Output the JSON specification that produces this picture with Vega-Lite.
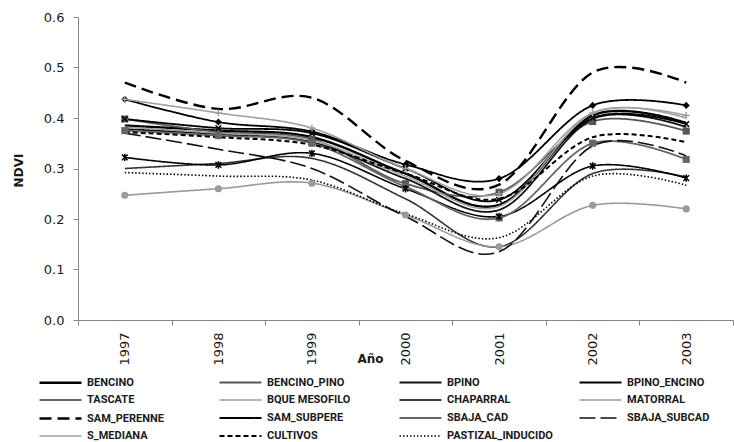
{
"$schema": "https://vega.github.io/schema/vega-lite/v6.json",
"width": 655, "height": 303,
"autosize": {"type": "none"},
"padding": {"left": 78, "top": 17, "right": 1, "bottom": 122},
"background": "white",
"config": {
 "view": {"stroke": null},
 "axis": {"grid": false, "domainColor": "#858585", "tickColor": "#858585", "labelFont": "DejaVu Sans", "labelFontSize": 13, "labelColor": "#1a1a1a", "titleFont": "DejaVu Sans", "titleFontSize": 12, "titleFontWeight": "bold", "titleColor": "#1a1a1a"}
},
"datasets": {"ndvi": [
{"year":"1997","series":"BENCINO","ndvi":0.385},{"year":"1998","series":"BENCINO","ndvi":0.375},{"year":"1999","series":"BENCINO","ndvi":0.362},{"year":"2000","series":"BENCINO","ndvi":0.29},{"year":"2001","series":"BENCINO","ndvi":0.228},{"year":"2002","series":"BENCINO","ndvi":0.405},{"year":"2003","series":"BENCINO","ndvi":0.39},
{"year":"1997","series":"BENCINO_PINO","ndvi":0.398},{"year":"1998","series":"BENCINO_PINO","ndvi":0.372},{"year":"1999","series":"BENCINO_PINO","ndvi":0.358},{"year":"2000","series":"BENCINO_PINO","ndvi":0.27},{"year":"2001","series":"BENCINO_PINO","ndvi":0.253},{"year":"2002","series":"BENCINO_PINO","ndvi":0.393},{"year":"2003","series":"BENCINO_PINO","ndvi":0.374},
{"year":"1997","series":"BPINO","ndvi":0.378},{"year":"1998","series":"BPINO","ndvi":0.368},{"year":"1999","series":"BPINO","ndvi":0.352},{"year":"2000","series":"BPINO","ndvi":0.28},{"year":"2001","series":"BPINO","ndvi":0.218},{"year":"2002","series":"BPINO","ndvi":0.398},{"year":"2003","series":"BPINO","ndvi":0.382},
{"year":"1997","series":"BPINO_ENCINO","ndvi":0.398},{"year":"1998","series":"BPINO_ENCINO","ndvi":0.38},{"year":"1999","series":"BPINO_ENCINO","ndvi":0.37},{"year":"2000","series":"BPINO_ENCINO","ndvi":0.3},{"year":"2001","series":"BPINO_ENCINO","ndvi":0.238},{"year":"2002","series":"BPINO_ENCINO","ndvi":0.4},{"year":"2003","series":"BPINO_ENCINO","ndvi":0.388},
{"year":"1997","series":"TASCATE","ndvi":0.3},{"year":"1998","series":"TASCATE","ndvi":0.31},{"year":"1999","series":"TASCATE","ndvi":0.32},{"year":"2000","series":"TASCATE","ndvi":0.24},{"year":"2001","series":"TASCATE","ndvi":0.145},{"year":"2002","series":"TASCATE","ndvi":0.29},{"year":"2003","series":"TASCATE","ndvi":0.283},
{"year":"1997","series":"BQUE MESOFILO","ndvi":0.382},{"year":"1998","series":"BQUE MESOFILO","ndvi":0.37},{"year":"1999","series":"BQUE MESOFILO","ndvi":0.356},{"year":"2000","series":"BQUE MESOFILO","ndvi":0.285},{"year":"2001","series":"BQUE MESOFILO","ndvi":0.225},{"year":"2002","series":"BQUE MESOFILO","ndvi":0.41},{"year":"2003","series":"BQUE MESOFILO","ndvi":0.4},
{"year":"1997","series":"CHAPARRAL","ndvi":0.322},{"year":"1998","series":"CHAPARRAL","ndvi":0.307},{"year":"1999","series":"CHAPARRAL","ndvi":0.33},{"year":"2000","series":"CHAPARRAL","ndvi":0.26},{"year":"2001","series":"CHAPARRAL","ndvi":0.205},{"year":"2002","series":"CHAPARRAL","ndvi":0.305},{"year":"2003","series":"CHAPARRAL","ndvi":0.281},
{"year":"1997","series":"MATORRAL","ndvi":0.247},{"year":"1998","series":"MATORRAL","ndvi":0.26},{"year":"1999","series":"MATORRAL","ndvi":0.271},{"year":"2000","series":"MATORRAL","ndvi":0.208},{"year":"2001","series":"MATORRAL","ndvi":0.145},{"year":"2002","series":"MATORRAL","ndvi":0.227},{"year":"2003","series":"MATORRAL","ndvi":0.22},
{"year":"1997","series":"SAM_PERENNE","ndvi":0.47},{"year":"1998","series":"SAM_PERENNE","ndvi":0.418},{"year":"1999","series":"SAM_PERENNE","ndvi":0.44},{"year":"2000","series":"SAM_PERENNE","ndvi":0.315},{"year":"2001","series":"SAM_PERENNE","ndvi":0.268},{"year":"2002","series":"SAM_PERENNE","ndvi":0.49},{"year":"2003","series":"SAM_PERENNE","ndvi":0.47},
{"year":"1997","series":"SAM_SUBPERE","ndvi":0.437},{"year":"1998","series":"SAM_SUBPERE","ndvi":0.392},{"year":"1999","series":"SAM_SUBPERE","ndvi":0.373},{"year":"2000","series":"SAM_SUBPERE","ndvi":0.308},{"year":"2001","series":"SAM_SUBPERE","ndvi":0.28},{"year":"2002","series":"SAM_SUBPERE","ndvi":0.425},{"year":"2003","series":"SAM_SUBPERE","ndvi":0.425},
{"year":"1997","series":"SBAJA_CAD","ndvi":0.375},{"year":"1998","series":"SBAJA_CAD","ndvi":0.365},{"year":"1999","series":"SBAJA_CAD","ndvi":0.35},{"year":"2000","series":"SBAJA_CAD","ndvi":0.264},{"year":"2001","series":"SBAJA_CAD","ndvi":0.202},{"year":"2002","series":"SBAJA_CAD","ndvi":0.35},{"year":"2003","series":"SBAJA_CAD","ndvi":0.318},
{"year":"1997","series":"SBAJA_SUBCAD","ndvi":0.37},{"year":"1998","series":"SBAJA_SUBCAD","ndvi":0.338},{"year":"1999","series":"SBAJA_SUBCAD","ndvi":0.3},{"year":"2000","series":"SBAJA_SUBCAD","ndvi":0.205},{"year":"2001","series":"SBAJA_SUBCAD","ndvi":0.135},{"year":"2002","series":"SBAJA_SUBCAD","ndvi":0.345},{"year":"2003","series":"SBAJA_SUBCAD","ndvi":0.325},
{"year":"1997","series":"S_MEDIANA","ndvi":0.437},{"year":"1998","series":"S_MEDIANA","ndvi":0.41},{"year":"1999","series":"S_MEDIANA","ndvi":0.38},{"year":"2000","series":"S_MEDIANA","ndvi":0.3},{"year":"2001","series":"S_MEDIANA","ndvi":0.25},{"year":"2002","series":"S_MEDIANA","ndvi":0.41},{"year":"2003","series":"S_MEDIANA","ndvi":0.405},
{"year":"1997","series":"CULTIVOS","ndvi":0.372},{"year":"1998","series":"CULTIVOS","ndvi":0.362},{"year":"1999","series":"CULTIVOS","ndvi":0.347},{"year":"2000","series":"CULTIVOS","ndvi":0.29},{"year":"2001","series":"CULTIVOS","ndvi":0.24},{"year":"2002","series":"CULTIVOS","ndvi":0.362},{"year":"2003","series":"CULTIVOS","ndvi":0.352},
{"year":"1997","series":"PASTIZAL_INDUCIDO","ndvi":0.292},{"year":"1998","series":"PASTIZAL_INDUCIDO","ndvi":0.285},{"year":"1999","series":"PASTIZAL_INDUCIDO","ndvi":0.277},{"year":"2000","series":"PASTIZAL_INDUCIDO","ndvi":0.21},{"year":"2001","series":"PASTIZAL_INDUCIDO","ndvi":0.163},{"year":"2002","series":"PASTIZAL_INDUCIDO","ndvi":0.285},{"year":"2003","series":"PASTIZAL_INDUCIDO","ndvi":0.267}
]},
"data": {"name": "ndvi"},
"encoding": {
 "x": {"field": "year", "type": "ordinal", "scale": {"type": "band", "paddingInner": 0, "paddingOuter": 0},
  "axis": {"title": "Año", "labelAngle": -90, "tickBand": "extent", "tickSize": 5, "labelPadding": 7, "titleX": 292, "titleY": 42, "titleBaseline": "alphabetic"}},
 "y": {"field": "ndvi", "type": "quantitative", "scale": {"domain": [0, 0.6]},
  "axis": {"title": "NDVI", "values": [0, 0.1, 0.2, 0.3, 0.4, 0.5, 0.6], "format": ".1f", "tickSize": 5, "labelPadding": 9, "titleX": -60, "titleY": 153, "titleAngle": -90, "titleAlign": "center", "titleBaseline": "middle"}},
 "color": {"field": "series", "type": "nominal",
  "scale": {"domain": ["BENCINO","TASCATE","SAM_PERENNE","S_MEDIANA","BENCINO_PINO","BQUE MESOFILO","SAM_SUBPERE","CULTIVOS","BPINO","CHAPARRAL","SBAJA_CAD","PASTIZAL_INDUCIDO","BPINO_ENCINO","MATORRAL","SBAJA_SUBCAD"],
   "range": ["#000000","#333333","#000000","#a0a0a0","#555555","#a0a0a0","#000000","#000000","#111111","#000000","#666666","#000000","#000000","#9a9a9a","#111111"]},
  "legend": {"orient": "none", "legendX": -25, "legendY": 358, "columns": 4, "title": null, "symbolType": "M-3.5,0H3.5", "symbolSize": 144, "labelFont": "Roboto", "labelFontWeight": "bold", "labelFontSize": 11, "labelColor": "#1a1a1a", "labelOffset": 19, "columnPadding": 22, "rowPadding": 5, "gridAlign": "all"}}
},
"layer": [
 {"mark": {"type": "line", "interpolate": "cardinal"},
  "encoding": {
   "strokeDash": {"field": "series", "type": "nominal",
    "scale": {"domain": ["BENCINO","TASCATE","SAM_PERENNE","S_MEDIANA","BENCINO_PINO","BQUE MESOFILO","SAM_SUBPERE","CULTIVOS","BPINO","CHAPARRAL","SBAJA_CAD","PASTIZAL_INDUCIDO","BPINO_ENCINO","MATORRAL","SBAJA_SUBCAD"],
     "range": [[1,0],[1,0],[12,6],[1,0],[1,0],[1,0],[1,0],[5,3],[1,0],[1,0],[1,0],[1.5,2],[1,0],[1,0],[16,5]]}},
   "strokeWidth": {"field": "series", "type": "nominal",
    "scale": {"type": "ordinal", "domain": ["BENCINO","TASCATE","SAM_PERENNE","S_MEDIANA","BENCINO_PINO","BQUE MESOFILO","SAM_SUBPERE","CULTIVOS","BPINO","CHAPARRAL","SBAJA_CAD","PASTIZAL_INDUCIDO","BPINO_ENCINO","MATORRAL","SBAJA_SUBCAD"],
     "range": [2.4,1.6,2.4,1.6,1.8,1.6,1.8,2,1.8,1.6,1.8,1.6,1.8,1.6,1.6]}}
  }},
 {"transform": [{"filter": {"field": "series", "oneOf": ["BENCINO_PINO","MATORRAL","SAM_SUBPERE","SBAJA_CAD"]}}],
  "mark": {"type": "point", "filled": true, "opacity": 1, "size": 50},
  "encoding": {
   "shape": {"field": "series", "type": "nominal", "legend": null,
    "scale": {"domain": ["BENCINO_PINO","MATORRAL","SAM_SUBPERE","SBAJA_CAD","BPINO_ENCINO","CHAPARRAL","S_MEDIANA"],
     "range": ["square","circle","diamond","square","M-1,-1L1,1M-1,1L1,-1","M-1,-1L1,1M-1,1L1,-1M0,-1.3L0,1.3","M-1.2,0L1.2,0M0,-1.2L0,1.2"]}}
  }},
 {"transform": [{"filter": {"field": "series", "oneOf": ["BPINO_ENCINO","CHAPARRAL","S_MEDIANA"]}}],
  "mark": {"type": "point", "filled": false, "opacity": 1, "size": 32, "strokeWidth": 1.5},
  "encoding": {
   "shape": {"field": "series", "type": "nominal", "legend": null}
  }}
]
}
